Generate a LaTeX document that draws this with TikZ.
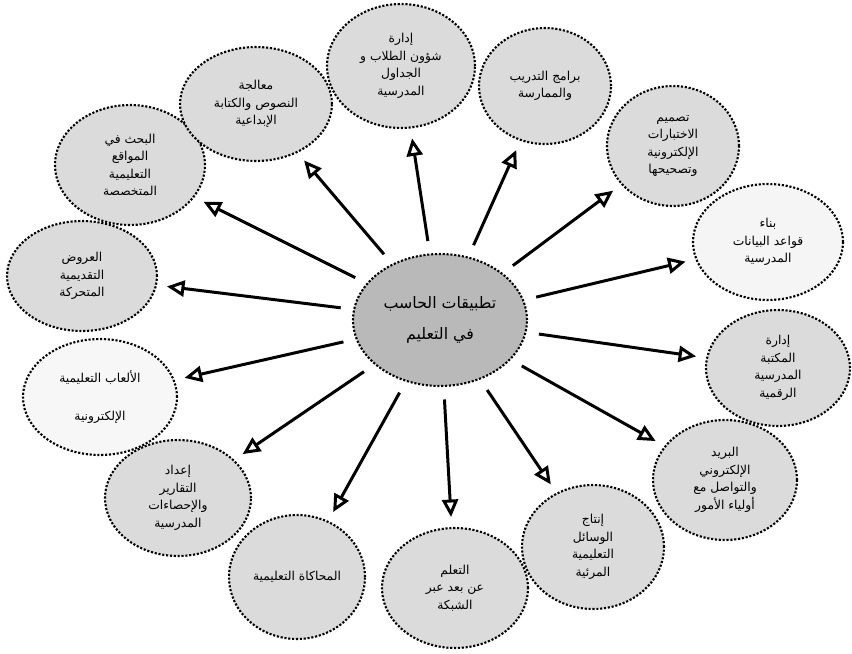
\documentclass[tikz,border=0pt]{standalone}
\usepackage{fontspec}
\newfontfamily\arabicfont[Script=Arabic]{DejaVu Sans}
\TeXXeTstate=1
\usetikzlibrary{shapes.geometric,arrows.meta}
\newcommand{\artxt}[1]{\beginR #1\endR}
\tikzstyle{bubble} = [draw, densely dotted, line width=1.2pt, ellipse, fill=gray!28,
    inner sep=0pt, align=center, minimum width=2.9cm, minimum height=2.4cm,
    font=\arabicfont\fontsize{7}{10}\selectfont]
\tikzstyle{hub} = [bubble, fill=gray!55, font=\arabicfont\fontsize{9}{18}\selectfont]
\tikzstyle{spoke} = [-{Triangle[open,length=3.5mm,width=3.2mm]}, line width=1.7pt,
    shorten <=2.5mm, shorten >=2mm]

\begin{document}
\begin{tikzpicture}[x=0.02cm, y=-0.02cm]
\useasboundingbox (0,0) rectangle (852,653);

\node [hub, name=hub, minimum width=3.48cm, minimum height=2.64cm] at (440,320)
    {\artxt{تطبيقات الحاسب}\\ \artxt{في التعليم}};

\node [bubble, name=admin, minimum width=2.96cm, minimum height=2.48cm] at (401,66)
    {\artxt{إدارة}\\ \artxt{شؤون الطلاب و}\\ \artxt{الجداول}\\ \artxt{المدرسية}};
\node [bubble, name=drill, minimum width=2.64cm, minimum height=2.32cm] at (545,86)
    {\artxt{برامج التدريب}\\ \artxt{والممارسة}};
\node [bubble, name=exams, minimum width=2.64cm, minimum height=2.4cm] at (673,146)
    {\artxt{تصميم}\\ \artxt{الاختبارات}\\ \artxt{الإلكترونية}\\ \artxt{وتصحيحها}};
\node [bubble, name=dbase, fill=gray!8, minimum width=3cm, minimum height=2.32cm] at (768,242)
    {\artxt{بناء}\\ \artxt{قواعد البيانات}\\ \artxt{المدرسية}};
\node [bubble, name=library, minimum width=2.88cm, minimum height=2.32cm] at (778,368)
    {\artxt{إدارة}\\ \artxt{المكتبة}\\ \artxt{المدرسية}\\ \artxt{الرقمية}};
\node [bubble, name=mail, minimum width=2.88cm, minimum height=2.4cm] at (725,480)
    {\artxt{البريد}\\ \artxt{الإلكتروني}\\ \artxt{والتواصل مع}\\ \artxt{أولياء الأمور}};
\node [bubble, name=media, minimum width=2.84cm, minimum height=2.48cm] at (593,547)
    {\artxt{إنتاج}\\ \artxt{الوسائل}\\ \artxt{التعليمية}\\ \artxt{المرئية}};
\node [bubble, name=remote, minimum width=2.92cm, minimum height=2.4cm] at (455,588)
    {\artxt{التعلم}\\ \artxt{عن بعد عبر}\\ \artxt{الشبكة}};
\node [bubble, name=sim, minimum width=2.72cm, minimum height=2.48cm] at (297,577)
    {\artxt{المحاكاة التعليمية}};
\node [bubble, name=reports, minimum width=2.92cm, minimum height=2.32cm] at (178,498)
    {\artxt{إعداد}\\ \artxt{التقارير}\\ \artxt{والإحصاءات}\\ \artxt{المدرسية}};
\node [bubble, name=games, fill=gray!6, minimum width=3.08cm, minimum height=2.32cm] at (100,397)
    {\artxt{الألعاب التعليمية}\\[4mm] \artxt{الإلكترونية}};
\node [bubble, name=slides, minimum width=3cm, minimum height=2.2cm] at (82,276)
    {\artxt{العروض}\\ \artxt{التقديمية}\\ \artxt{المتحركة}};
\node [bubble, name=search, minimum width=3cm, minimum height=2.4cm] at (130,165)
    {\artxt{البحث في}\\ \artxt{المواقع}\\ \artxt{التعليمية}\\ \artxt{المتخصصة}};
\node [bubble, name=writing, minimum width=3.04cm, minimum height=2.28cm] at (256,104)
    {\artxt{معالجة}\\ \artxt{النصوص والكتابة}\\ \artxt{الإبداعية}};

% arrows from the hub
\draw [spoke] (hub) -- (admin);
\draw [spoke] (hub) -- (drill);
\draw [spoke] (hub) -- (exams);
\draw [spoke] (hub) -- (dbase);
\draw [spoke] (hub) -- (library);
\draw [spoke] (hub) -- (mail);
\draw [spoke] (hub) -- (media);
\draw [spoke] (hub) -- (remote);
\draw [spoke] (hub) -- (sim);
\draw [spoke] (hub) -- (reports);
\draw [spoke] (hub) -- (games);
\draw [spoke] (hub) -- (slides);
\draw [spoke] (hub) -- (search);
\draw [spoke] (hub) -- (writing);

\end{tikzpicture}
\end{document}
